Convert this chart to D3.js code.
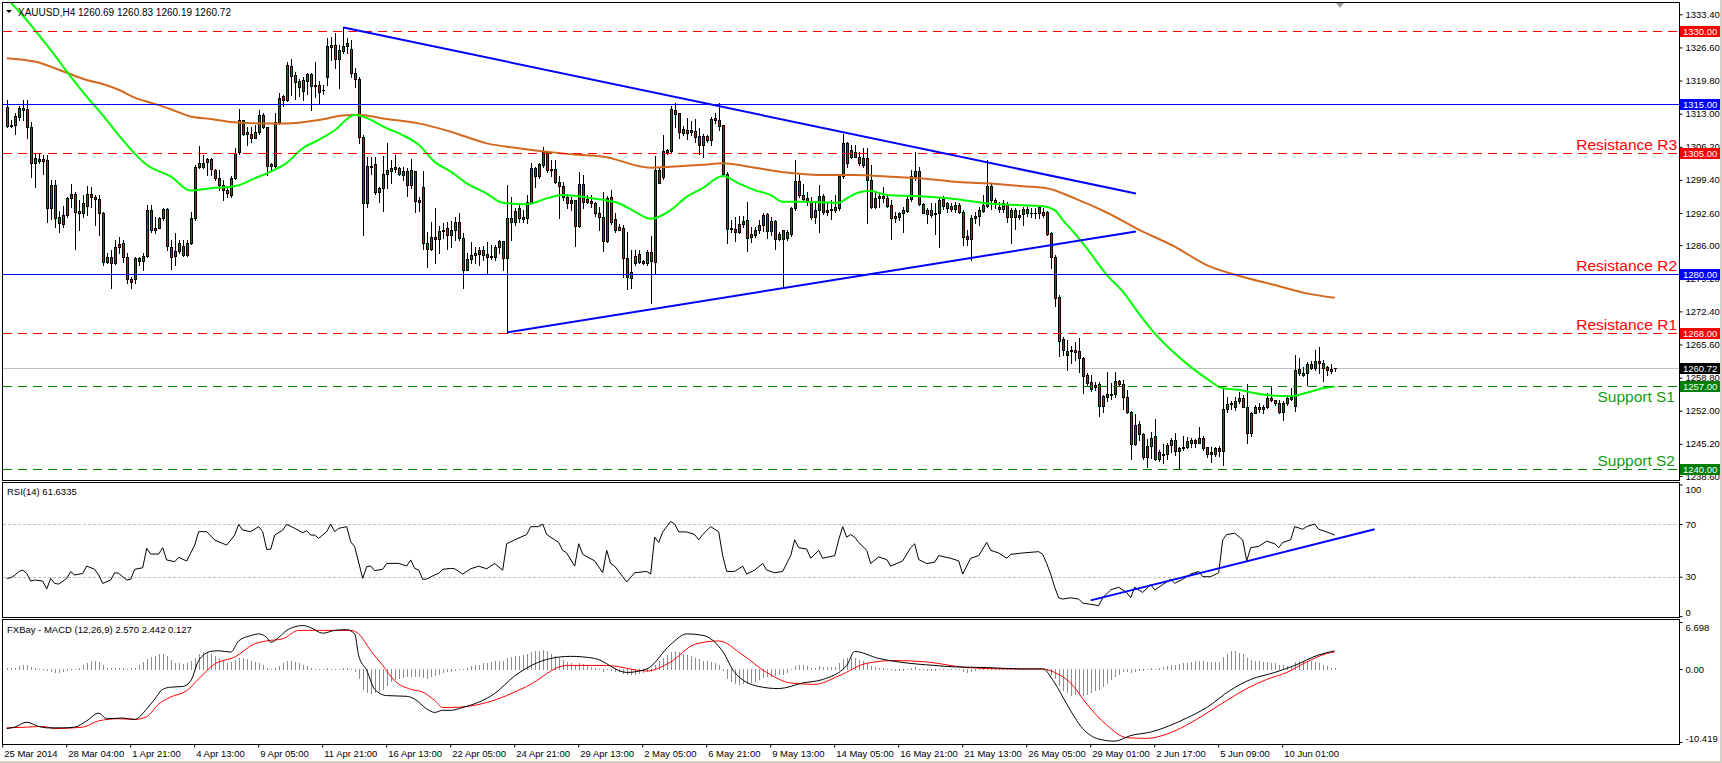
<!DOCTYPE html>
<html>
<head>
<meta charset="utf-8">
<script src="https://cdn.jsdelivr.net/npm/d3@7"></script>
<style>
html, body { margin: 0; padding: 0; background: #fff; }
svg { display: block; font-family: "Liberation Sans", Arial, sans-serif; }
</style>
</head>
<body>
<svg id="chart" width="1722" height="763"></svg>
<script>
// ---- XAUUSD H4 candles (bar 0 = 25 Mar 2014) ----
const opens = [
1314.3,1310.5,1310.6,1312.4,1313.8,1313.9,1310.2,1302.9,1303.2,1303.6,
1303.5,1293.6,1298.3,1291.8,1290.3,1292.2,1295.6,1296.6,1293.0,1292.5,
1294.0,1296.6,1295.8,1295.4,1292.5,1282.6,1283.6,1282.3,1286.2,1286.4,
1283.5,1279.0,1279.0,1282.7,1282.7,1283.7,1293.2,1289.5,1289.6,1291.5,
1293.4,1285.7,1283.8,1284.7,1285.9,1284.0,1286.4,1291.5,1302.1,1302.0,
1303.6,1303.6,1301.4,1299.7,1298.3,1297.3,1296.3,1299.7,1305.2,1311.7,
1309.2,1308.9,1308.1,1309.2,1312.7,1310.2,1302.7,1302.3,1311.2,1316.6,
1315.9,1322.8,1320.9,1319.7,1317.7,1319.8,1321.1,1318.8,1318.8,1317.9,
1320.5,1326.6,1327.1,1324.2,1325.9,1326.8,1326.2,1321.3,1320.1,1308.3,
1294.6,1302.2,1302.7,1297.0,1297.7,1300.6,1301.3,1301.7,1301.8,1300.5,
1301.2,1298.3,1301.2,1295.3,1297.9,1286.4,1285.3,1287.7,1287.2,1288.9,
1289.6,1288.1,1289.1,1290.7,1287.4,1281.0,1283.1,1283.9,1284.1,1285.0,
1284.1,1283.8,1283.5,1285.7,1286.8,1283.3,1291.5,1290.8,1293.6,1291.3,
1291.6,1294.9,1301.8,1300.1,1302.5,1305.2,1301.6,1301.6,1299.0,1298.1,
1295.9,1294.6,1295.3,1290.0,1298.6,1295.4,1295.1,1294.6,1292.7,1291.8,
1286.9,1295.8,1291.3,1289.8,1289.6,1283.3,1279.2,1282.4,1284.1,1282.8,
1282.3,1284.5,1282.6,1301.4,1299.9,1305.2,1305.4,1313.8,1313.1,1309.1,
1309.6,1309.3,1309.4,1308.4,1306.6,1308.4,1307.5,1312.2,1311.7,1310.6,
1300.7,1289.6,1289.4,1288.7,1290.3,1291.2,1288.2,1288.1,1289.1,1290.1,
1292.3,1290.9,1290.9,1287.2,1289.2,1287.4,1288.3,1293.6,1299.1,1296.2,
1295.6,1295.1,1291.7,1293.3,1296.1,1293.3,1293.2,1293.3,1293.6,1300.1,
1306.9,1304.2,1305.1,1304.2,1302.5,1303.8,1299.4,1293.8,1295.6,1296.0,
1295.6,1294.2,1291.5,1291.8,1292.7,1293.1,1295.4,1300.1,1301.3,1294.4,
1293.2,1293.2,1292.7,1292.5,1295.4,1294.6,1294.0,1293.4,1294.2,1292.9,
1287.9,1287.2,1291.5,1292.0,1293.1,1294.0,1298.1,1295.3,1293.4,1293.4,
1294.5,1291.8,1293.2,1291.8,1292.4,1293.4,1292.5,1292.5,1292.5,1292.9,
1292.9,1288.4,1283.5,1275.4,1266.7,1263.4,1264.5,1264.5,1264.3,1262.8,
1259.3,1258.0,1257.3,1257.5,1253.0,1254.9,1255.2,1255.4,1258.1,1257.5,
1254.9,1251.8,1245.1,1249.2,1247.2,1242.4,1244.8,1246.8,1242.0,1242.9,
1243.2,1245.0,1246.0,1243.8,1244.3,1244.5,1245.4,1246.0,1245.4,1246.5,
1244.5,1243.5,1243.1,1244.3,1243.8,1252.3,1253.5,1252.8,1253.9,1254.7,
1252.8,1247.4,1251.6,1252.8,1252.3,1252.7,1254.7,1254.2,1253.5,1251.8,
1253.5,1254.5,1253.0,1260.5,1259.8,1259.7,1261.6,1260.7,1262.3,1261.7,
1260.9,1260.5,1260.69];

const highs = [
1315.8,1311.7,1313.1,1314.6,1315.9,1315.9,1311.3,1304.8,1304.7,1304.6,
1304.5,1299.4,1299.4,1293.1,1294.0,1295.9,1298.6,1297.0,1295.3,1296.3,
1298.2,1298.0,1296.3,1296.3,1292.9,1284.3,1285.0,1287.1,1287.7,1287.1,
1284.3,1279.5,1283.5,1283.5,1284.3,1294.2,1294.2,1291.8,1291.8,1293.6,
1293.6,1287.1,1288.4,1287.1,1287.1,1287.1,1292.9,1302.5,1306.4,1304.5,
1303.8,1303.8,1301.6,1301.4,1299.4,1298.0,1300.1,1305.9,1313.9,1311.7,
1310.3,1310.3,1310.7,1313.8,1313.1,1310.3,1302.8,1313.1,1317.2,1316.8,
1323.7,1324.2,1321.6,1320.2,1320.6,1321.4,1321.3,1323.7,1319.8,1318.9,
1328.5,1328.8,1329.5,1327.1,1330.7,1328.5,1328.1,1322.3,1320.6,1308.6,
1304.2,1304.2,1304.2,1298.0,1304.3,1306.9,1303.5,1304.5,1302.1,1302.1,
1301.8,1303.6,1301.3,1295.9,1301.2,1288.8,1290.8,1293.6,1289.9,1290.5,
1290.8,1291.0,1291.8,1292.5,1288.4,1284.3,1286.7,1285.7,1285.7,1285.8,
1286.7,1286.0,1286.0,1287.1,1286.8,1298.3,1295.9,1293.6,1294.2,1293.2,
1296.3,1302.8,1302.1,1302.8,1306.2,1305.4,1303.5,1303.5,1300.1,1299.0,
1296.6,1295.9,1295.3,1301.1,1300.4,1296.3,1296.3,1294.9,1293.9,1297.0,
1296.1,1297.4,1292.5,1290.3,1290.1,1288.8,1285.1,1285.1,1285.0,1282.9,
1285.0,1287.9,1304.3,1301.8,1308.6,1305.7,1314.6,1315.1,1313.2,1310.5,
1312.2,1311.4,1311.8,1310.0,1308.9,1308.6,1312.4,1313.1,1315.1,1310.7,
1301.1,1291.2,1291.7,1292.0,1292.0,1294.9,1289.8,1289.8,1291.2,1292.5,
1292.5,1291.8,1291.2,1288.8,1289.2,1289.1,1293.9,1303.5,1300.9,1298.5,
1297.0,1295.9,1294.9,1298.3,1296.6,1294.9,1295.3,1296.3,1300.4,1308.9,
1307.2,1306.6,1306.6,1305.2,1305.9,1305.9,1302.5,1297.0,1297.0,1297.9,
1296.3,1295.3,1292.9,1292.9,1293.9,1296.3,1301.4,1305.2,1302.1,1294.6,
1293.6,1294.6,1294.6,1295.6,1296.0,1294.9,1294.7,1294.9,1294.6,1293.2,
1289.1,1292.2,1292.9,1293.9,1296.3,1303.5,1298.7,1295.6,1294.9,1295.3,
1294.9,1293.6,1293.6,1293.2,1293.8,1293.9,1293.6,1293.6,1294.2,1293.6,
1293.1,1288.6,1284.0,1275.8,1267.2,1266.5,1265.2,1266.2,1266.9,1263.1,
1259.7,1259.3,1258.0,1258.0,1255.2,1260.0,1257.6,1260.0,1258.3,1258.3,
1256.3,1252.0,1251.3,1249.8,1247.5,1246.1,1247.7,1250.4,1243.9,1245.2,
1245.3,1246.3,1247.4,1244.6,1246.8,1246.7,1246.5,1246.1,1248.6,1246.8,
1244.6,1244.5,1244.6,1244.8,1256.6,1254.9,1254.0,1254.9,1255.9,1255.2,
1257.5,1251.8,1253.2,1253.5,1253.2,1255.6,1256.8,1254.3,1254.2,1253.9,
1255.2,1256.6,1263.4,1262.8,1261.0,1262.1,1262.3,1264.5,1265.0,1262.4,
1261.2,1261.5,1260.83];

const lows = [
1310.2,1310.2,1308.9,1311.7,1311.7,1307.9,1299.9,1298.0,1302.8,1300.7,
1290.8,1291.3,1289.8,1288.8,1289.8,1291.8,1293.9,1285.3,1289.2,1291.8,
1292.2,1293.9,1290.1,1288.1,1281.9,1282.3,1277.3,1282.1,1284.3,1282.6,
1278.2,1277.1,1278.2,1281.9,1281.0,1283.5,1288.8,1288.4,1289.5,1291.2,
1285.0,1281.2,1281.9,1284.3,1283.8,1283.8,1286.2,1291.2,1301.8,1301.8,
1300.4,1300.4,1299.4,1297.3,1295.3,1295.9,1295.9,1299.5,1304.8,1308.6,
1306.6,1307.2,1307.9,1308.9,1310.0,1300.4,1301.4,1302.1,1310.9,1314.6,
1315.5,1316.8,1316.1,1316.6,1315.9,1317.0,1313.8,1316.4,1315.0,1317.0,
1318.9,1324.0,1322.3,1318.2,1325.4,1325.4,1320.6,1318.5,1306.9,1288.1,
1293.9,1300.7,1296.6,1294.9,1293.1,1297.7,1298.7,1301.1,1300.4,1299.4,
1296.1,1297.7,1292.9,1293.1,1285.3,1281.6,1285.0,1282.4,1284.4,1287.4,
1285.3,1285.7,1287.1,1287.1,1277.3,1280.8,1282.3,1282.4,1281.9,1282.9,
1280.3,1283.1,1282.9,1284.3,1280.9,1268.0,1287.1,1290.1,1290.8,1290.8,
1290.5,1294.7,1298.0,1299.7,1302.1,1301.1,1300.1,1298.7,1291.5,1295.3,
1293.6,1293.3,1285.8,1289.8,1293.6,1294.7,1293.9,1292.0,1289.1,1284.7,
1286.7,1290.3,1288.8,1289.1,1279.5,1276.9,1277.3,1281.9,1282.4,1282.1,
1281.9,1274.2,1280.2,1298.7,1299.5,1304.8,1305.0,1310.3,1307.9,1308.6,
1307.7,1308.6,1307.2,1304.8,1304.2,1307.2,1306.6,1311.0,1309.6,1300.4,
1286.4,1288.8,1286.9,1288.4,1289.8,1284.7,1286.7,1287.7,1288.4,1289.0,
1287.4,1288.1,1285.3,1287.1,1277.5,1287.1,1287.9,1293.2,1295.9,1295.3,
1294.2,1291.3,1290.5,1288.6,1292.4,1292.2,1291.3,1292.9,1293.3,1299.7,
1302.1,1303.8,1304.0,1302.5,1302.0,1290.6,1293.6,1293.6,1293.9,1294.9,
1293.9,1287.2,1290.8,1291.2,1288.8,1292.9,1295.1,1299.4,1294.2,1292.5,
1290.6,1291.7,1288.3,1285.7,1293.4,1292.9,1293.1,1292.9,1292.7,1286.0,
1286.0,1282.9,1290.5,1290.1,1292.9,1293.9,1293.4,1293.6,1292.9,1292.9,
1290.8,1286.4,1289.4,1291.3,1290.1,1292.0,1291.7,1291.5,1291.5,1291.8,
1288.1,1281.4,1273.5,1263.2,1263.4,1260.4,1261.9,1262.4,1260.0,1255.6,
1257.3,1256.1,1256.3,1250.9,1251.8,1253.9,1254.5,1254.8,1257.3,1252.3,
1251.5,1242.0,1244.9,1246.0,1242.0,1240.5,1242.2,1241.9,1241.7,1241.3,
1242.0,1243.6,1242.9,1240.2,1243.9,1244.3,1244.5,1244.6,1245.3,1243.9,
1242.4,1241.5,1242.7,1242.7,1240.9,1251.8,1252.3,1252.2,1253.5,1252.7,
1245.4,1246.8,1251.5,1251.8,1251.6,1252.5,1254.1,1253.2,1251.6,1250.0,
1253.2,1254.3,1252.0,1259.3,1259.1,1257.3,1260.5,1260.4,1259.7,1258.2,
1259.3,1259.7,1260.19];

const closes = [
1310.5,1310.7,1312.6,1314.2,1314.2,1310.2,1302.9,1303.9,1303.6,1303.2,
1293.6,1298.3,1291.5,1290.6,1292.2,1295.6,1296.6,1292.9,1292.7,1294.6,
1296.6,1295.8,1295.4,1292.5,1282.6,1283.6,1282.3,1285.7,1285.7,1283.5,
1279.0,1278.5,1283.4,1283.4,1283.7,1293.2,1289.1,1289.1,1291.5,1293.4,
1285.9,1283.6,1284.8,1286.4,1284.0,1286.4,1291.5,1302.1,1302.8,1302.8,
1303.1,1301.6,1299.7,1298.3,1297.3,1296.8,1299.7,1305.0,1311.7,1308.9,
1308.8,1308.1,1309.2,1312.7,1310.2,1302.3,1302.3,1311.2,1316.3,1315.9,
1323.0,1320.7,1319.6,1318.5,1319.9,1321.1,1318.7,1318.7,1317.5,1317.8,
1326.8,1327.1,1324.2,1326.1,1326.9,1327.6,1321.3,1320.1,1308.3,1294.6,
1302.2,1302.1,1297.0,1297.7,1300.6,1301.4,1301.8,1302.0,1300.6,1301.2,
1298.3,1301.4,1295.1,1294.8,1286.4,1285.3,1287.7,1287.2,1288.9,1289.2,
1288.1,1289.2,1290.7,1287.4,1281.0,1283.1,1284.0,1284.3,1285.0,1284.0,
1283.6,1283.5,1285.7,1286.8,1283.3,1291.5,1290.8,1293.0,1291.5,1291.7,
1294.9,1301.8,1300.1,1302.7,1305.2,1301.4,1301.4,1299.0,1298.1,1295.9,
1294.6,1295.3,1290.0,1298.6,1294.9,1294.9,1294.6,1292.7,1291.7,1286.9,
1295.6,1290.8,1289.2,1289.2,1283.3,1279.4,1280.5,1283.8,1282.6,1282.3,
1284.5,1282.8,1301.4,1298.8,1305.3,1305.5,1313.9,1312.9,1309.3,1309.8,
1309.1,1309.6,1308.3,1306.6,1308.4,1307.5,1312.0,1311.6,1310.5,1300.7,
1289.4,1289.3,1288.8,1290.3,1290.9,1287.5,1287.7,1289.1,1290.1,1292.1,
1289.0,1289.0,1287.2,1288.3,1287.2,1288.6,1293.6,1299.1,1296.2,1295.4,
1295.1,1291.7,1293.3,1296.1,1292.9,1292.9,1293.5,1293.9,1300.1,1306.9,
1302.8,1305.5,1304.2,1302.8,1303.8,1299.4,1293.8,1295.6,1296.1,1295.6,
1294.0,1291.5,1292.0,1292.7,1293.2,1295.4,1300.1,1301.3,1294.4,1292.7,
1292.3,1292.2,1292.3,1295.3,1294.0,1293.6,1293.4,1294.2,1292.9,1287.7,
1287.2,1291.5,1292.0,1293.2,1294.2,1298.1,1295.3,1294.6,1293.8,1294.6,
1291.8,1293.2,1291.7,1292.2,1293.4,1292.5,1292.7,1292.5,1293.8,1292.2,
1288.3,1283.5,1275.1,1266.4,1264.5,1264.3,1264.2,1264.1,1262.8,1259.2,
1257.6,1256.4,1256.8,1253.0,1255.0,1255.4,1255.4,1258.1,1257.5,1254.9,
1251.8,1245.1,1249.1,1247.2,1242.4,1244.8,1246.5,1242.0,1243.5,1243.2,
1245.0,1246.0,1243.8,1244.3,1244.6,1245.8,1246.0,1245.4,1246.5,1244.3,
1243.2,1243.2,1244.3,1243.8,1252.3,1253.3,1253.4,1254.0,1254.7,1252.8,
1247.4,1251.6,1252.8,1252.3,1252.8,1254.7,1254.2,1253.5,1251.8,1253.5,
1254.7,1254.9,1260.4,1259.7,1259.3,1261.6,1260.7,1262.3,1261.7,1260.7,
1260.4,1260.2,1260.72];

// moving averages, [bar, value]
const maFast = [[0,1336.7],[5,1332.2],[7,1330.2],[11,1326.1],[16,1320.6],[20,1316.5],[24,1312.7],[28,1308.6],
[32,1304.8],[35,1302.5],[41,1300.1],[46,1297.2],[51,1297.7],[57,1298.1],[62,1299.7],[66,1301.1],[70,1302.9],
[74,1305.9],[78,1307.6],[82,1309.6],[87,1312.7],[89,1312.4],[95,1310.0],[99,1308.6],[103,1306.6],[107,1303.1],
[111,1301.1],[115,1298.7],[120,1296.6],[124,1294.7],[130,1294.4],[135,1295.6],[139,1296.3],[145,1295.8],
[149,1295.3],[153,1294.6],[157,1292.9],[161,1291.4],[166,1293.2],[170,1295.9],[174,1297.7],[179,1300.2],
[183,1298.7],[187,1297.3],[191,1296.3],[194,1294.9],[199,1294.9],[208,1294.7],[210,1295.6],[213,1296.8],
[216,1297.1],[220,1296.3],[229,1296.0],[237,1295.5],[245,1294.6],[254,1294.2],[259,1294.0],[262,1293.2],
[264,1291.2],[267,1288.4],[271,1284.3],[275,1279.9],[279,1276.5],[283,1272.0],[287,1267.9],[292,1263.8],
[296,1261.0],[300,1258.6],[304,1256.6],[308,1256.3],[312,1255.6],[317,1255.1],[321,1255.0],[325,1255.7],
[329,1256.6],[332,1257.0]];
const maSlow = [[0,1324.4],[7,1323.7],[15,1321.4],[20,1319.9],[24,1319.1],[28,1317.9],[32,1316.3],[37,1315.0],
[41,1313.9],[46,1312.4],[51,1311.9],[56,1311.3],[60,1311.1],[66,1311.0],[70,1311.0],[78,1311.7],[84,1312.6],
[88,1312.8],[95,1311.9],[103,1311.0],[111,1309.3],[120,1306.9],[128,1305.9],[136,1305.1],[142,1304.6],
[149,1304.2],[161,1301.9],[166,1302.1],[174,1302.5],[179,1302.8],[187,1301.9],[195,1300.9],[203,1300.4],
[212,1300.4],[220,1300.1],[229,1299.7],[237,1299.0],[245,1298.7],[254,1298.1],[260,1297.7],[267,1295.6],
[275,1292.7],[283,1289.2],[292,1285.7],[300,1281.9],[308,1279.7],[317,1277.8],[325,1276.1],[332,1275.2]];

// horizontal levels
const levelValues = [1330, 1315, 1305, 1280, 1268, 1257, 1240];
const levelKinds  = ["res", "line", "res", "line", "res", "sup", "sup"];
const levelNames  = ["", "", "Resistance R3", "Resistance R2", "Resistance R1", "Support S1", "Support S2"];
const lastPrice = 1260.72;

// trend lines [bar, price]
const trendUpper = [[84.2, 1330.7], [282.3, 1296.6]];
const trendLower = [[125.2, 1268.1], [282.3, 1288.8]];

// price scale ticks
const priceTicks = [1333.4,1326.6,1319.8,1313.0,1306.2,1299.4,1292.6,1286.0,1279.2,1272.4,1265.6,1258.8,1252.0,1245.2,1238.6];

// time axis labels, one every 16 bars
const dateLabels = ["25 Mar 2014","28 Mar 04:00","1 Apr 21:00","4 Apr 13:00","9 Apr 05:00","11 Apr 21:00",
"16 Apr 13:00","22 Apr 05:00","24 Apr 21:00","29 Apr 13:00","2 May 05:00","6 May 21:00","9 May 13:00",
"14 May 05:00","16 May 21:00","21 May 13:00","26 May 05:00","29 May 01:00","2 Jun 17:00","5 Jun 09:00","10 Jun 01:00"];

// RSI(14), [bar, value]
const rsi = [[0,28.7],[1,29.2],[2,31],[3,33.8],[4,35.1],[5,32.5],[6,26.7],[7,27.5],[9,26.7],[10,20.6],[11,28.7],
[12,24.9],[13,24.4],[15,28.7],[16,33.8],[17,31.3],[19,32.5],[20,38.1],[22,35.6],[23,31.3],[24,24.9],[26,27.5],
[27,33.0],[28,32.5],[30,27.5],[31,28.0],[32,35.6],[34,36.8],[35,51.5],[36,47.2],[38,47.2],[39,52.0],[40,42.7],
[42,41.4],[43,44.7],[45,41.9],[47,54.0],[48,64.2],[50,64.2],[52,57.8],[55,54.0],[57,61.6],[58,69.7],[59,65.4],
[61,64.2],[63,68.0],[64,64.2],[65,50.8],[66,50.8],[67,61.6],[69,65.4],[70,69.7],[72,66.7],[74,63.4],[75,64.9],
[76,61.6],[77,61.6],[78,59.1],[80,64.2],[81,70.0],[82,64.2],[83,66.7],[85,68.0],[86,56.6],[87,52.8],[89,28.7],
[90,37.6],[91,38.1],[92,34.6],[94,35.6],[95,40.1],[98,40.1],[100,38.1],[101,42.7],[102,36.3],[103,35.1],
[104,28.0],[105,28.2],[107,31.3],[108,32.5],[109,35.6],[111,36.3],[112,36],[114,32],[116,36],[118,38],[120,36],
[122,40],[124,35],[125,55],[127,58],[130,62],[131,68],[133,68],[134,70],[135,62],[137,58],[138,56],[139,50],
[140,48],[142,38],[143,55],[144,47],[147,42],[149,33],[150,50],[151,40],[152,38],[154,30],[155,26],[157,33],
[160,34],[161,32],[162,60],[163,56],[164,64],[166,72],[167,70],[168,64],[170,64],[172,62],[173,58],[174,62],
[176,68],[178,64],[179,46],[180,34],[182,34],[184,38],[185,32],[187,35],[189,40],[190,35],[192,33],[194,34],
[196,46],[197,58],[198,52],[200,51],[201,44],[203,50],[204,44],[207,46],[208,58],[209,68],[210,60],[211,62],
[212,60],[213,56],[215,50],[216,40],[218,45],[220,43],[221,38],[224,42],[226,52],[227,55],[228,43],[230,40],
[232,41],[233,46],[236,44],[238,42],[239,32],[241,44],[243,46],[245,56],[246,50],[248,48],[250,44],[251,47],
[254,48],[258,49],[259,47],[260,40],[261,32],[262,22],[263,14],[264,13],[266,14],[268,13],[269,10],[271,9],
[273,8],[274,14],[276,20],[278,22],[280,18],[281,14],[282,22],[284,18],[286,24],[287,20],[289,24],[291,28],
[292,25],[294,28],[296,32],[298,34],[299,30],[301,30],[303,33],[304,58],[305,62],[307,63],[309,58],[310,42],
[311,52],[313,53],[315,57],[317,55],[318,52],[319,56],[321,58],[322,68],[324,66],[325,68],[327,70],[328,66],
[330,64],[332,61.6]];
const rsiTrend = [[271, 12], [342, 66]];
const rsiTicks = [100, 70, 30, 0];

// MACD (12,26,9): main line, signal line [bar, value], histogram per bar
const macdMain = [[0,-8.5],[2,-8.3],[5,-7.6],[8,-8.2],[10,-8.4],[14,-8.4],[17,-8.3],[20,-7.4],[23,-6.3],[25,-7.1],
[29,-7.0],[32,-7.2],[35,-5.7],[37,-4.3],[39,-2.9],[41,-2.6],[44,-2.5],[46,-1.7],[48,1.2],[51,2.5],[53,2.6],
[56,2.4],[58,4.0],[61,4.75],[63,5.0],[65,4.5],[66,3.8],[68,4.5],[70,5.5],[72,6.0],[74,6.2],[76,5.9],[79,5.1],
[82,5.5],[85,5.6],[87,5.0],[88,1.9],[90,-0.2],[92,-2.9],[95,-3.8],[100,-3.9],[102,-4.3],[105,-5.7],[107,-6.2],
[109,-5.9],[111,-5.9],[114,-5.5],[122,-3.5],[127,-1],[136,1.5],[141,1.8],[147,1.5],[155,-0.5],[160,0],[166,3.5],
[170,5],[174,4.8],[179,2.5],[182,-0.5],[188,-2.5],[193,-2.8],[199,-2],[204,-1.5],[210,0.5],[212,2.5],[218,1.5],
[223,1],[232,0.5],[237,0.3],[245,0.2],[254,0],[259,0],[262,-2],[265,-5],[269,-8.5],[273,-10],[277,-10.3],
[281,-9.5],[286,-9.0],[295,-7],[300,-5.5],[306,-3],[311,-1.5],[317,-0.5],[322,0.5],[328,2],[332,2.57]];
const macdSignal = [[0,-8.4],[5,-8.3],[9,-8.2],[12,-8.5],[19,-8.3],[23,-7.4],[28,-7.1],[32,-7.2],[35,-6.8],
[38,-5.0],[41,-4.0],[45,-3.1],[48,-1.4],[52,0.7],[57,1.7],[62,3.6],[65,4.0],[69,4.3],[73,5.5],[78,5.5],[82,5.5],
[86,5.5],[88,5.0],[91,2.6],[94,0.5],[97,-1.7],[101,-2.9],[104,-3.3],[107,-4.5],[109,-5.5],[111,-5.5],[120,-4.8],
[130,-2.5],[140,0.5],[150,0.5],[160,-0.3],[166,1],[172,3.5],[178,4],[184,2],[190,-0.5],[196,-2],[202,-2.2],
[208,-1],[215,0.8],[222,1.2],[230,1],[240,0.2],[250,0],[259,0],[262,-0.5],[266,-2],[270,-5],[275,-8],[280,-9.8],
[285,-9.9],[290,-9.3],[295,-8],[300,-6.3],[305,-4.5],[310,-2.8],[315,-1.5],[320,-0.5],[325,1],[330,2.2],[332,2.44]];
const macdHist = [
0.1,0.1,0.2,0.4,0.5,0.5,0.3,0.1,0,-0.1,
-0.3,-0.5,-0.6,-0.6,-0.4,-0.3,-0.2,-0.1,0.2,0.5,
0.8,1.1,1.2,1.0,0.5,0.2,0.1,0.1,0.2,0.1,
0,0.1,0.2,0.6,1.0,1.4,1.7,1.9,2.1,2.1,
1.8,1.3,0.9,0.8,0.7,0.8,1.1,1.6,2.1,2.4,
2.4,2.2,1.9,1.5,1.1,0.9,1.0,1.3,1.5,1.6,
1.4,1.2,1.0,0.8,0.5,0.2,-0.1,0.1,0.4,0.8,
1.1,1.2,1.0,0.8,0.6,0.4,0.2,0,-0.2,-0.2,
0.1,0,0,0,0.1,0.1,0,-0.4,-1.5,-3.0,
-3.5,-3.6,-3.5,-3.3,-3.0,-2.4,-1.9,-1.6,-1.4,-1.3,
-1.2,-1.2,-1.2,-1.2,-1.3,-1.4,-1.2,-1.0,-0.8,-0.6,
-0.5,-0.4,-0.3,-0.2,0,0.2,0.4,0.5,0.6,0.8,0.9,
1.0,1.1,1.1,1.2,1.5,1.7,1.8,1.9,2.0,2.1,
2.4,2.5,2.6,2.7,2.5,2.2,1.9,1.6,1.3,1.0,
0.9,0.6,0.8,0.7,0.5,0.3,0.1,-0.1,-0.4,-0.2,
-0.3,-0.4,-0.5,-0.7,-0.9,-0.9,-0.8,-0.7,-0.6,-0.5,
-0.4,0.6,1.2,1.6,2.0,2.4,2.5,2.4,2.2,2.0,
1.8,1.6,1.4,1.2,1.1,1.0,0.9,0.6,-0.3,-1.4,
-1.9,-2.2,-2.3,-2.2,-2.2,-2.0,-1.8,-1.6,-1.3,-1.2,
-1.1,-1.0,-0.9,-0.8,-0.6,-0.2,0.4,0.5,0.5,0.4,
0.2,0.2,0.4,0.3,0.3,0.3,0.3,0.8,1.4,1.5,
1.6,1.5,1.3,1.1,0.8,0.4,0.3,0.2,0.1,0.0,
-0.2,-0.3,-0.3,-0.3,-0.2,0.1,0.3,0.0,-0.2,-0.3,
-0.3,-0.3,-0.2,-0.2,-0.2,-0.2,-0.2,-0.2,-0.5,-0.6,
-0.4,-0.3,-0.2,-0.1,0.3,0.3,0.2,0.1,0.1,0.0,
0,0,0,0,0,0,0,0,0,-0.3,
-0.8,-1.5,-2.5,-3.2,-3.5,-3.8,-3.7,-3.6,-3.8,-3.7,
-3.5,-3.2,-3.0,-2.6,-2.1,-1.6,-1.2,-0.8,-0.5,-0.5,
-0.6,-0.4,-0.3,-0.3,0.0,0.2,0.0,0.2,0.3,0.4,
0.6,0.6,0.7,0.8,0.9,1.0,1.1,1.1,1.1,1.0,
1.0,1.0,1.0,1.7,2.2,2.5,2.5,2.3,2.1,1.5,
1.3,1.2,1.1,1.0,1.0,0.9,0.8,0.6,0.5,0.4,
0.4,1.0,1.2,1.2,1.2,1.1,1.0,0.8,0.6,0.4,0.2,0.13];
const macdTicks = [6.698, 0, -10.419];
const macdTickText = ["6.698", "0.00", "-10.419"];

// ---- layout ----
const W = 1722, H = 763;
const plotL = 3, plotR = 1679;
const mainTop = 3, mainBot = 480;
const rsiTop = 483, rsiBot = 617;
const macdTop = 620, macdBot = 744;
const small = 9.5;

const svg = d3.select("#chart");
svg.append("rect").attr("width", W).attr("height", H).attr("fill", "#fff");

const x = d3.scaleLinear().domain([0, 332]).range([6.7, 6.7 + 4 * 332]);
const y = d3.scaleLinear().domain([1238.6, 1333.4]).range([476, 14.3]);
const yRsi = d3.scaleLinear().domain([0, 100]).range([616.2, 484.5]);
const yMacd = d3.scaleLinear().domain([-10.419, 6.698]).range([742, 622]);
const px = i => Math.round(x(i));

const defs = svg.append("defs");
[["clipMain", mainTop, mainBot], ["clipRsi", rsiTop, rsiBot], ["clipMacd", macdTop, macdBot]].forEach(([id, t, b]) => {
  defs.append("clipPath").attr("id", id).append("rect")
    .attr("x", plotL).attr("y", t).attr("width", plotR - plotL).attr("height", b - t);
});

// ---- main chart ----
const gMain = svg.append("g").attr("clip-path", "url(#clipMain)");

// last price line
gMain.append("line").attr("x1", plotL).attr("x2", plotR)
  .attr("y1", Math.round(y(lastPrice)) + 0.5).attr("y2", Math.round(y(lastPrice)) + 0.5)
  .attr("stroke", "#c0c0c0");

const candles = d3.range(closes.length).map(i => ({ i, o: opens[i], h: highs[i], l: lows[i], c: closes[i] }));

gMain.append("g").selectAll("line").data(candles).join("line")
  .attr("x1", d => px(d.i) + 0.5).attr("x2", d => px(d.i) + 0.5)
  .attr("y1", d => Math.round(y(d.h))).attr("y2", d => Math.round(y(d.l)) + 1)
  .attr("stroke", "#000");

const bodyTop = d => Math.round(Math.min(y(d.o), y(d.c)));
const bodyBot = d => Math.round(Math.max(y(d.o), y(d.c)));

gMain.append("g").selectAll("rect").data(candles.filter(d => bodyBot(d) - bodyTop(d) >= 1)).join("rect")
  .attr("x", d => px(d.i) - 0.5).attr("y", d => bodyTop(d) + 0.5)
  .attr("width", 2).attr("height", d => bodyBot(d) - bodyTop(d))
  .attr("fill", d => d.c >= d.o ? "#008000" : "#ff0000")
  .attr("stroke", "#000");

gMain.append("g").selectAll("line").data(candles.filter(d => bodyBot(d) - bodyTop(d) < 1)).join("line")
  .attr("x1", d => px(d.i) - 1).attr("x2", d => px(d.i) + 2)
  .attr("y1", d => bodyTop(d) + 0.5).attr("y2", d => bodyTop(d) + 0.5)
  .attr("stroke", "#000");

// moving averages
const maLine = d3.line().x(d => x(d[0])).y(d => y(d[1])).curve(d3.curveMonotoneX);
gMain.append("path").attr("d", maLine(maSlow)).attr("fill", "none").attr("stroke", "#d2691e").attr("stroke-width", 2);
gMain.append("path").attr("d", maLine(maFast)).attr("fill", "none").attr("stroke", "#00ff00").attr("stroke-width", 2);

// levels
const levelColor = { res: "#ff0000", line: "#0000ff", sup: "#008000" };
levelValues.forEach((v, k) => {
  const yy = Math.round(y(v)) + 0.5;
  gMain.append("line").attr("x1", plotL).attr("x2", plotR).attr("y1", yy).attr("y2", yy)
    .attr("stroke", levelColor[levelKinds[k]])
    .attr("stroke-dasharray", levelKinds[k] === "line" ? null : "9,6");
});

// trend lines
const trendLine = d3.line().x(d => x(d[0])).y(d => y(d[1]));
[trendUpper, trendLower].forEach(t => {
  gMain.append("path").attr("d", trendLine(t)).attr("fill", "none").attr("stroke", "#0000ff").attr("stroke-width", 2);
});

// level captions
levelValues.forEach((v, k) => {
  if (!levelNames[k]) return;
  const isSup = levelKinds[k] === "sup";
  const below = levelNames[k] === "Support S1";
  svg.append("text")
    .attr("x", isSup ? 1675 : 1677)
    .attr("y", below ? y(v) + 16 : y(v) - 3)
    .attr("text-anchor", "end")
    .attr("font-size", 15.5)
    .attr("fill", isSup ? "#119c11" : "#ff0000")
    .text(levelNames[k]);
});

// ---- RSI ----
const gRsi = svg.append("g").attr("clip-path", "url(#clipRsi)");
[70, 30].forEach(v => {
  gRsi.append("line").attr("x1", plotL).attr("x2", plotR)
    .attr("y1", Math.round(yRsi(v)) + 0.5).attr("y2", Math.round(yRsi(v)) + 0.5)
    .attr("stroke", "#c0c0c0").attr("stroke-dasharray", "3,2");
});
gRsi.append("path").attr("d", d3.line().x(d => x(d[0])).y(d => yRsi(d[1]))(rsi))
  .attr("fill", "none").attr("stroke", "#000");
gRsi.append("path").attr("d", d3.line().x(d => x(d[0])).y(d => yRsi(d[1]))(rsiTrend))
  .attr("fill", "none").attr("stroke", "#0000ff").attr("stroke-width", 2);

// ---- MACD ----
const gMacd = svg.append("g").attr("clip-path", "url(#clipMacd)");
const y0 = Math.round(yMacd(0));
gMacd.append("g").selectAll("line").data(macdHist).join("line")
  .attr("x1", (d, i) => px(i) + 0.5).attr("x2", (d, i) => px(i) + 0.5)
  .attr("y1", d => d >= 0 ? y0 + 1 : y0)
  .attr("y2", d => {
    const yy = Math.round(yMacd(d));
    return d >= 0 ? Math.min(yy, y0) : Math.max(yy, y0 + 1);
  })
  .attr("stroke", "#8c8c8c");
const macdLine = d3.line().x(d => x(d[0])).y(d => yMacd(d[1])).curve(d3.curveMonotoneX);
gMacd.append("path").attr("d", macdLine(macdSignal)).attr("fill", "none").attr("stroke", "#ff0000");
gMacd.append("path").attr("d", macdLine(macdMain)).attr("fill", "none").attr("stroke", "#000");

// ---- frames ----
[[mainTop, mainBot], [rsiTop, rsiBot], [macdTop, macdBot]].forEach(([t, b]) => {
  svg.append("rect").attr("x", 2.5).attr("y", t - 0.5).attr("width", plotR - 2)
    .attr("height", b - t + 1).attr("fill", "none").attr("stroke", "#000");
});

// ---- price axis ----
const axisStyle = g => {
  g.select(".domain").remove();
  g.selectAll("text").attr("font-size", small).attr("font-family", "Liberation Sans, Arial, sans-serif").attr("fill", "#000");
  g.selectAll("line").attr("stroke", "#000");
};
svg.append("g").attr("transform", `translate(${plotR + 0.5},0)`)
  .call(d3.axisRight(y).tickValues(priceTicks).tickFormat(d3.format(".2f")).tickSize(3).tickPadding(3))
  .call(axisStyle);

// level boxes on the price axis
const boxColor = { res: "#ff0000", line: "#0000ff", sup: "#008000" };
const boxes = levelValues.map((v, k) => ({ v, c: boxColor[levelKinds[k]] }));
boxes.push({ v: lastPrice, c: "#000" });
boxes.forEach(b => {
  const yy = Math.round(y(b.v));
  svg.append("rect").attr("x", 1680).attr("y", yy - 5).attr("width", 41).attr("height", 11).attr("fill", b.c);
  svg.append("text").attr("x", 1683).attr("y", yy + 4).attr("font-size", small).attr("fill", "#fff")
    .text(b.v.toFixed(2));
});

// RSI axis
const gRA = svg.append("g").attr("transform", `translate(${plotR + 0.5},0)`)
  .call(d3.axisRight(yRsi).tickValues(rsiTicks).tickSize(3).tickPadding(3))
  .call(axisStyle);
gRA.selectAll("text").attr("dy", d => d === 100 ? "0.8em" : d === 0 ? "-0.05em" : "0.32em");

// MACD axis
const gMA = svg.append("g").attr("transform", `translate(${plotR + 0.5},0)`)
  .call(d3.axisRight(yMacd).tickValues(macdTicks).tickSize(3).tickPadding(3)
    .tickFormat((d, i) => macdTickText[i]))
  .call(axisStyle);
gMA.selectAll("text").attr("dy", d => d > 1 ? "0.9em" : d < -1 ? "-0.1em" : "0.32em");

// ---- time axis ----
const tickBars = dateLabels.map((_, k) => 16 * k - 1);
const xTime = d3.scaleLinear().domain([-1, 332]).range([x(-1), x(332)]);
const gT = svg.append("g").attr("transform", `translate(0,${macdBot + 0.5})`)
  .call(d3.axisBottom(xTime).tickValues(tickBars).tickSize(3).tickFormat((d, i) => dateLabels[i]))
  .call(axisStyle);
gT.selectAll(".tick line").attr("transform", "translate(-0.5,0)");
gT.selectAll("text").attr("text-anchor", "start").attr("dx", 1).attr("y", 6);

// ---- captions ----
svg.append("path").attr("d", "M6,10 L12,10 L9,13 Z").attr("fill", "#000");
svg.append("text").attr("x", 18).attr("y", 16).attr("font-size", 10).attr("fill", "#000")
  .text("XAUUSD,H4  1260.69 1260.83 1260.19 1260.72");
svg.append("text").attr("x", 7).attr("y", 495).attr("font-size", small).attr("fill", "#000")
  .text("RSI(14) 61.6335");
svg.append("text").attr("x", 7).attr("y", 633).attr("font-size", small).attr("fill", "#000")
  .text("FXBay - MACD (12,26,9) 2.570 2.442 0.127");
svg.append("path").attr("d", "M1336,3 L1344,3 L1340,8 Z").attr("fill", "#a0a0a0");

// window edge
svg.append("rect").attr("x", 0).attr("y", 761).attr("width", W).attr("height", 2).attr("fill", "#d4d0c8");
svg.append("rect").attr("x", 1720).attr("y", 0).attr("width", 2).attr("height", H).attr("fill", "#d4d0c8");
</script>
</body>
</html>
